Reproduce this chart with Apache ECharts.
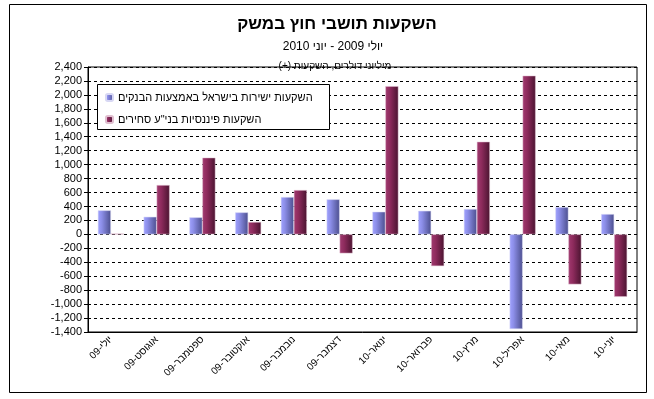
<!DOCTYPE html>
<html>
<head>
<meta charset="utf-8">
<script src="https://cdn.jsdelivr.net/npm/echarts@6/dist/echarts.min.js"></script>
<style>
  html, body { margin: 0; padding: 0; background: #fff; }
  #chart-container { width: 654px; height: 399px; }
</style>
</head>
<body>
<div id="chart-container"></div>
<script>
var categories = ['יולי-09', 'אוגוסט-09', 'ספטמבר-09', 'אוקטובר-09', 'נובמבר-09', 'דצמבר-09',
  'ינואר-10', 'פברואר-10', 'מרץ-10', 'אפריל-10', 'מאי-10', 'יוני-10'];
var directBanks = [344, 252, 244, 315, 535, 502, 324, 338, 363, -1358, 391, 291];
var tradableSecurities = [10, 707, 1100, 177, 635, -272, 2125, -455, 1328, 2275, -717, -895];
var seriesNames = ['השקעות ישירות בישראל באמצעות הבנקים', 'השקעות פיננסיות בני"ע סחירים'];

var dom = document.getElementById('chart-container');
var myChart = echarts.init(dom, null, { renderer: 'canvas' });

var font = 'Arial, "Liberation Sans", "DejaVu Sans", sans-serif';
// RLM keeps trailing "(+)" on the right-to-left side
var RLM = '\u200F';

var blueFill = new echarts.graphic.LinearGradient(0, 0, 1, 0, [
  { offset: 0, color: '#a0a2ff' },
  { offset: 0.3, color: '#8c8ee8' },
  { offset: 1, color: '#4c4f8e' }
]);
var maroonFill = new echarts.graphic.LinearGradient(0, 0, 1, 0, [
  { offset: 0, color: '#a13a70' },
  { offset: 0.35, color: '#8e2b5d' },
  { offset: 1, color: '#4a1430' }
]);

var option = {
  animation: false,
  backgroundColor: '#fff',
  textStyle: { fontFamily: font },
  title: [
    {
      text: 'השקעות תושבי חוץ במשק',
      left: 332, top: 11, textAlign: 'center',
      textStyle: { fontSize: 17, fontWeight: 'bold', color: '#000', fontFamily: font }
    },
    {
      text: 'יולי 2009 - יוני 2010',
      left: 328, top: 36, textAlign: 'center',
      textStyle: { fontSize: 12, fontWeight: 'normal', color: '#000', fontFamily: font }
    },
    {
      text: 'מיליוני דולרים, השקעות (+)' + RLM,
      left: 330, top: 56, textAlign: 'center',
      textStyle: { fontSize: 10, fontWeight: 'normal', color: '#000', fontFamily: font }
    }
  ],
  legend: {
    data: seriesNames,
    orient: 'vertical',
    left: 105, top: 92, align: 'left', padding: 0, z: 10,
    itemWidth: 7, itemHeight: 7, itemGap: 11,
    textStyle: { fontSize: 11, color: '#000', fontFamily: font }
  },
  grid: {
    left: 88, right: 17, top: 67, bottom: 67,
    show: true, borderColor: '#000', borderWidth: 1, backgroundColor: '#fff'
  },
  xAxis: {
    type: 'category',
    data: categories,
    axisLine: { onZero: false, lineStyle: { color: '#000' } },
    axisTick: { show: false },
    axisLabel: { rotate: 45, fontSize: 10, color: '#000', margin: 6, interval: 0, fontFamily: font }
  },
  yAxis: {
    type: 'value',
    min: -1400, max: 2400, interval: 200,
    axisLine: { show: true, lineStyle: { color: '#000' } },
    axisTick: { show: true, length: 4, lineStyle: { color: '#000' } },
    axisLabel: {
      fontSize: 11, color: '#000', margin: 6, fontFamily: font,
      formatter: function (v) { return v.toLocaleString('en-US'); }
    },
    splitLine: { show: true, lineStyle: { color: '#000', type: [3, 3], width: 1 } }
  },
  series: [
    {
      name: seriesNames[0], type: 'bar', data: directBanks,
      barWidth: 13, barGap: '0%',
      itemStyle: { color: blueFill, borderColor: '#d8d8f4', borderWidth: 0.5 }
    },
    {
      name: seriesNames[1], type: 'bar', data: tradableSecurities,
      barWidth: 13,
      itemStyle: { color: maroonFill, borderColor: '#e0bfd0', borderWidth: 0.5 }
    }
  ],
  graphic: [
    {
      type: 'rect', z: -1, silent: true,
      shape: { x: 9.5, y: 4.5, width: 637, height: 388 },
      style: { fill: null, stroke: '#000', lineWidth: 1 }
    },
    {
      type: 'rect', z: 3, silent: true,
      shape: { x: 97.5, y: 84.5, width: 232, height: 45 },
      style: { fill: '#fff', stroke: '#000', lineWidth: 1 }
    }
  ]
};

myChart.setOption(option);
window.addEventListener('resize', myChart.resize);
</script>
</body>
</html>
